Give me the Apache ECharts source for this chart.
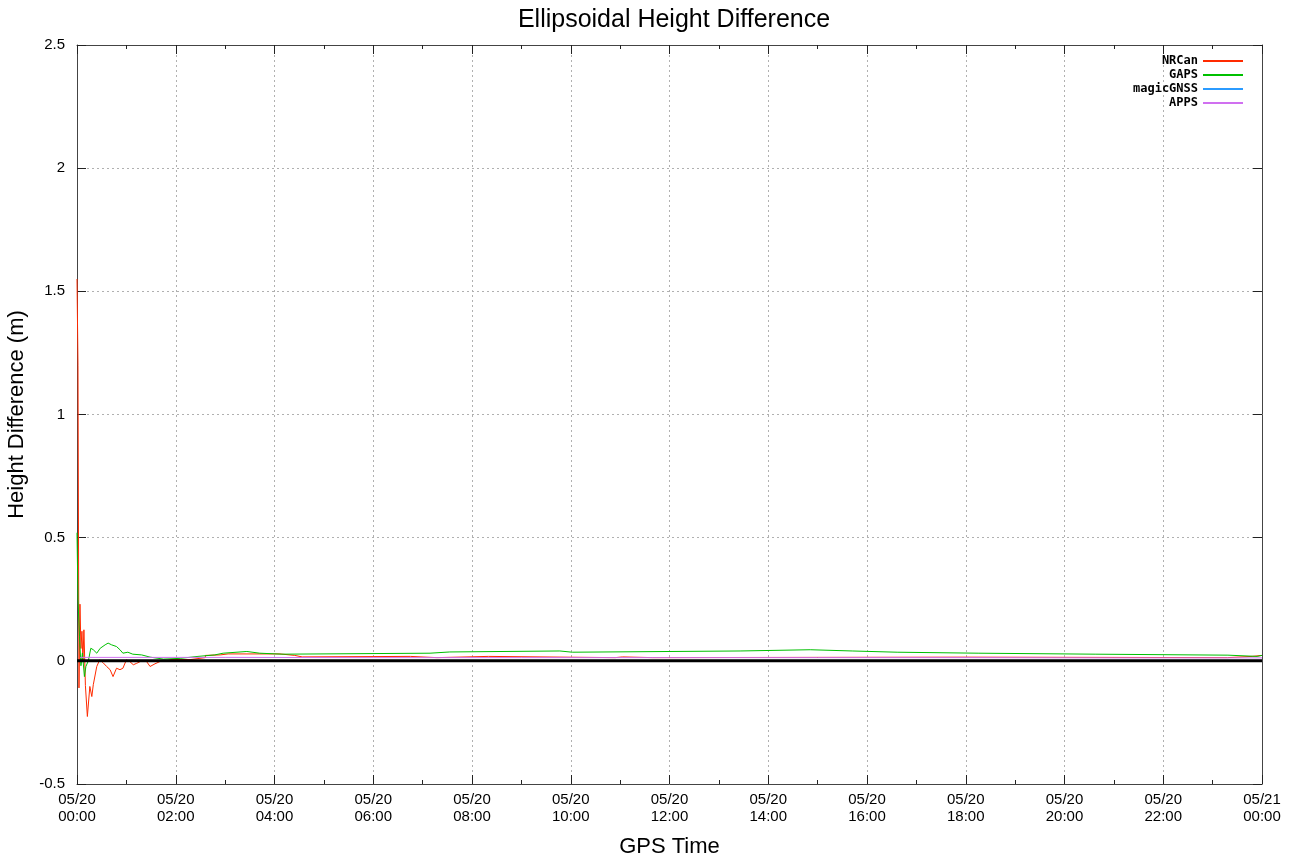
<!DOCTYPE html>
<html>
<head>
<meta charset="utf-8">
<script src="https://cdn.jsdelivr.net/npm/echarts@6/dist/echarts.min.js"></script>
<style>html,body{margin:0;padding:0;background:#fff}#c{width:1293px;height:859px}</style>
</head>
<body>
<div id="c"></div>
<script>
// Tick labels for the time axis (every 2 hours)
var xTickLabels = ["05/20\n00:00","05/20\n02:00","05/20\n04:00","05/20\n06:00","05/20\n08:00","05/20\n10:00","05/20\n12:00","05/20\n14:00","05/20\n16:00","05/20\n18:00","05/20\n20:00","05/20\n22:00","05/21\n00:00"];
var seriesNames = ["NRCan","GAPS","magicGNSS","APPS"];

// NRCan (hours since 05/20 00:00, metres)
var nrcanHours = [0.00,0.02,0.04,0.06,0.08,0.10,0.12,0.14,0.17,0.21,0.26,0.30,0.33,0.40,0.46,0.53,0.60,0.67,0.73,0.80,0.87,0.93,1.00,1.07,1.14,1.21,1.31,1.41,1.48,1.58,1.68,1.81,1.90,2.29,2.29,2.60,2.60,2.90,3.06,4.11,4.11,4.41,4.41,4.56,4.56,6.75,6.75,7.29,7.29,8.33,8.33,10.90,10.90,11.05,11.05,11.66,11.66,17.99,17.99,23.30,23.80,24.00];
var nrcanValues = [1.55,1.20,-0.11,0.23,0.05,0.12,0.00,0.126,-0.10,-0.226,-0.104,-0.145,-0.097,-0.023,0.004,-0.008,-0.023,-0.036,-0.064,-0.030,-0.036,-0.030,0.004,-0.003,-0.016,-0.010,0.000,-0.003,-0.023,-0.012,-0.003,0.000,0.005,0.005,0.013,0.013,0.022,0.024,0.028,0.028,0.022,0.022,0.016,0.016,0.018,0.018,0.013,0.013,0.018,0.018,0.013,0.013,0.016,0.016,0.013,0.013,0.015,0.015,0.013,0.013,0.018,0.022];

// GAPS
var gapsHours = [0.00,0.015,0.02,0.05,0.08,0.11,0.15,0.18,0.23,0.28,0.33,0.40,0.47,0.57,0.63,0.70,0.80,0.87,0.93,1.03,1.13,1.31,1.48,1.75,2.09,2.09,2.45,2.45,2.79,2.79,2.96,2.96,3.44,3.44,3.70,3.70,4.15,4.15,7.15,7.15,7.55,7.55,9.78,9.78,10.03,10.03,13.43,13.43,14.85,14.85,15.70,15.70,16.61,16.61,18.25,18.25,20.62,20.62,23.31,23.31,23.90,24.00];
var gapsValues = [0.52,0.52,0.25,0.10,-0.02,0.032,-0.064,-0.023,0.000,0.051,0.045,0.031,0.051,0.065,0.072,0.065,0.058,0.045,0.031,0.035,0.027,0.024,0.015,0.007,0.010,0.018,0.018,0.024,0.024,0.031,0.031,0.038,0.038,0.031,0.031,0.027,0.027,0.031,0.031,0.036,0.036,0.040,0.040,0.035,0.035,0.040,0.040,0.045,0.045,0.040,0.040,0.035,0.035,0.031,0.031,0.027,0.027,0.023,0.023,0.018,0.018,0.022];

// magicGNSS (hidden under the zero line in the reference)
var magicHours = [0.06,6.00,12.00,18.00,24.00];
var magicValues = [0.001,0.001,0.001,0.001,0.001];

// APPS
var appsHours = [0.06,3.00,6.00,9.00,12.00,15.00,18.00,21.00,24.00];
var appsValues = [0.014,0.014,0.013,0.013,0.013,0.013,0.013,0.012,0.012];

var zeroHours = [0,24];
var zeroValues = [0,0];

function zip(a,b){var r=[];for(var i=0;i<a.length;i++)r.push([a[i],b[i]]);return r;}

var colors = ["#ff2a00","#00c000","#2b9bff","#d070f0"];
var font = "Liberation Sans";

var chart = echarts.init(document.getElementById('c'));
function lineSeries(name, data, color){
  return {name:name,type:'line',data:data,symbol:'none',showSymbol:false,animation:false,
    lineStyle:{color:color,width:1},itemStyle:{color:color},z:2};
}
var gridLine = {show:true,lineStyle:{color:'#b0b0b0',type:[2,3],width:1}};
chart.setOption({
  backgroundColor:'#fff',
  animation:false,
  title:{text:'Ellipsoidal Height Difference',left:669,textAlign:'center',top:3,
    textStyle:{fontFamily:font,fontSize:25,fontWeight:'normal',color:'#000'}},
  legend:{data:seriesNames,orient:'vertical',right:45,top:50,align:'right',
    icon:'rect',itemWidth:40,itemHeight:2,itemGap:2,
    textStyle:{fontFamily:'DejaVu Sans Mono',fontWeight:'bold',fontSize:12,color:'#000',lineHeight:12}},
  grid:{left:77,right:31,top:45,bottom:75,containLabel:false,outerBoundsMode:'none'},
  xAxis:[{type:'value',min:0,max:24,interval:2,position:'bottom',
    axisLine:{show:true,onZero:false,lineStyle:{color:'#444',width:1}},
    axisTick:{show:true,inside:true,length:9,lineStyle:{color:'#222'}},
    minorTick:{show:true,splitNumber:2,length:4,lineStyle:{color:'#222'}},
    splitLine:gridLine,
    axisLabel:{fontFamily:font,fontSize:15,color:'#000',margin:7,lineHeight:17,
      formatter:function(v){return xTickLabels[Math.round(v/2)];}},
    name:'GPS Time',nameLocation:'middle',nameGap:52,
    nameTextStyle:{fontFamily:font,fontSize:22,color:'#000'}},
   {type:'value',min:0,max:24,interval:2,position:'top',
    axisLine:{show:true,onZero:false,lineStyle:{color:'#444',width:1}},
    axisTick:{show:true,inside:true,length:9,lineStyle:{color:'#222'}},
    minorTick:{show:true,splitNumber:2,length:4,lineStyle:{color:'#222'}},
    splitLine:{show:false},axisLabel:{show:false}}],
  yAxis:[{type:'value',min:-0.5,max:2.5,interval:0.5,position:'left',
    axisLine:{show:true,onZero:false,lineStyle:{color:'#444',width:1}},
    axisTick:{show:true,inside:true,length:9,lineStyle:{color:'#222'}},
    splitLine:gridLine,
    axisLabel:{fontFamily:font,fontSize:15,color:'#000',margin:12,
      formatter:function(v){return String(Math.round(v*10)/10);}},
    name:'Height Difference (m)',nameLocation:'middle',nameGap:44,
    nameTextStyle:{fontFamily:font,fontSize:22,color:'#000'}},
   {type:'value',min:-0.5,max:2.5,interval:0.5,position:'right',
    axisLine:{show:true,onZero:false,lineStyle:{color:'#444',width:1}},
    axisTick:{show:true,inside:true,length:9,lineStyle:{color:'#222'}},
    splitLine:{show:false},axisLabel:{show:false}}],
  series:[
    lineSeries('NRCan',zip(nrcanHours,nrcanValues),colors[0]),
    lineSeries('GAPS',zip(gapsHours,gapsValues),colors[1]),
    lineSeries('magicGNSS',zip(magicHours,magicValues),colors[2]),
    lineSeries('APPS',zip(appsHours,appsValues),colors[3]),
    {name:'zero',type:'line',data:zip(zeroHours,zeroValues),symbol:'none',z:3,
      lineStyle:{color:'#000',width:3},itemStyle:{color:'#000'},silent:true}
  ]
});
</script>
</body>
</html>
